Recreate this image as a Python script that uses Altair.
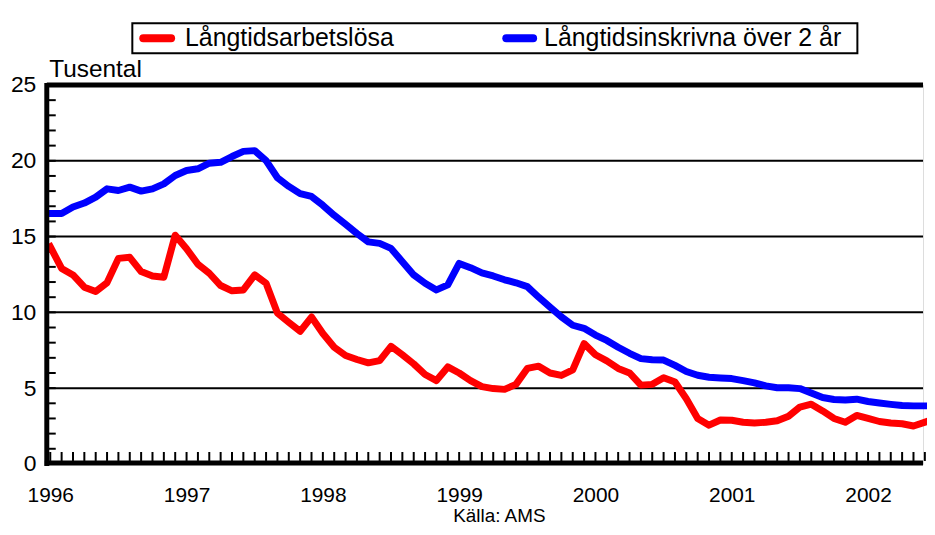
import altair as alt
import pandas as pd

FONT = "Liberation Sans"

# Months from Jan 1996 (index 0) to Jun 2002 (index 77)
month_index = list(range(78))
years = ["1996", "1997", "1998", "1999", "2000", "2001", "2002"]

series_red = "Långtidsarbetslösa"
series_blue = "Långtidsinskrivna över 2 år"
colors = ["#ff0000", "#0000ff"]

red = [14.33, 12.9, 12.47, 11.66, 11.37, 11.96, 13.56, 13.63, 12.69, 12.4,
       12.32, 15.09, 14.2, 13.17, 12.58, 11.77, 11.42, 11.48, 12.47, 11.92,
       9.95, 9.34, 8.75, 9.69, 8.6, 7.7, 7.15, 6.89, 6.67, 6.82,
       7.76, 7.2, 6.6, 5.9, 5.5, 6.4, 6.0, 5.5, 5.1, 4.97,
       4.92, 5.25, 6.3, 6.45, 6.0, 5.84, 6.2, 7.94, 7.2, 6.8,
       6.3, 6.0, 5.2, 5.25, 5.69, 5.4, 4.3, 3.0, 2.56, 2.9,
       2.88, 2.75, 2.7, 2.75, 2.85, 3.15, 3.75, 3.94, 3.5, 3.0,
       2.75, 3.2, 3.0, 2.8, 2.7, 2.65, 2.5, 2.75]

blue = [16.52, 16.52, 16.95, 17.21, 17.6, 18.15, 18.04, 18.26, 18.0, 18.15,
        18.48, 19.03, 19.36, 19.47, 19.84, 19.9, 20.28, 20.62, 20.67, 20.01,
        18.88, 18.31, 17.83, 17.65, 17.06, 16.4, 15.81, 15.2, 14.65, 14.55,
        14.22, 13.34, 12.47, 11.92, 11.48, 11.81, 13.23, 12.95, 12.6, 12.4,
        12.15, 11.95, 11.7, 11.0, 10.35, 9.7, 9.15, 8.95, 8.5, 8.15,
        7.7, 7.3, 6.95, 6.87, 6.85, 6.5, 6.1, 5.85, 5.72, 5.67,
        5.63, 5.5, 5.35, 5.15, 5.03, 5.03, 4.97, 4.68, 4.38, 4.25,
        4.22, 4.27, 4.12, 4.02, 3.93, 3.85, 3.83, 3.83]

y_labels = [0, 5, 10, 15, 20, 25]
grid_values = [5, 10, 15, 20]
minor_y = list(range(1, 25))

W, H = 881, 381
XDOM = [-0.306, 76.84]

df = pd.DataFrame({
    "m": month_index * 2,
    "v": red + blue,
    "serie": [series_red] * len(red) + [series_blue] * len(blue),
})

xs = alt.Scale(domain=XDOM, nice=False, zero=False)
ys = alt.Scale(domain=[0, 25], nice=False)

year_expr = "datum.value % 12 == 0 ? " + str(years) + "[floor(datum.value / 12)] : ''"

lines = alt.Chart(df).mark_line(strokeWidth=7, strokeJoin="round", strokeCap="square").encode(
    x=alt.X("m:Q", scale=xs,
            axis=alt.Axis(values=[0, 12, 24, 36, 48, 60, 72], labelExpr=year_expr,
                          title=None, domain=False, ticks=False, tickSize=0, grid=False,
                          labelFont=FONT, labelFontSize=21, labelColor="black",
                          labelPadding=21)),
    y=alt.Y("v:Q", scale=ys,
            axis=alt.Axis(values=y_labels, title="Tusental", domain=False, ticks=False,
                          tickSize=0, grid=False, labelFont=FONT, labelFontSize=23,
                          labelColor="black", labelPadding=11,
                          titleAngle=0, titleAlign="left", titleBaseline="alphabetic",
                          titleX=2, titleY=-9, titleFont=FONT, titleFontSize=24.5,
                          titleFontWeight="normal", titleColor="black")),
    color=alt.Color("serie:N",
                    scale=alt.Scale(domain=[series_red, series_blue], range=colors),
                    legend=None),
    order="m:Q",
)

grid = alt.Chart(pd.DataFrame({"g": grid_values})).mark_rule(
    color="black", strokeWidth=2).encode(y=alt.Y("g:Q", scale=ys))

top = alt.Chart(pd.DataFrame({"g": [25]})).mark_rule(
    color="black", strokeWidth=5).encode(
    y=alt.Y("g:Q", scale=ys), x=alt.value(0), x2=alt.value(W))

left_axis = alt.Chart(pd.DataFrame({"g": [0]})).mark_rule(
    color="black", strokeWidth=5).encode(
    x=alt.value(0), y=alt.value(-2), y2=alt.value(H + 2))

bottom_axis = alt.Chart(pd.DataFrame({"g": [0]})).mark_rule(
    color="black", strokeWidth=5).encode(
    y=alt.value(H - 1), x=alt.value(-2), x2=alt.value(W))

xticks = alt.Chart(pd.DataFrame({"m": month_index})).mark_rule(
    color="black", strokeWidth=2).encode(
    x=alt.X("m:Q", scale=xs), y=alt.value(H - 3), y2=alt.value(H - 12))

yticks = alt.Chart(pd.DataFrame({"t": minor_y})).mark_rule(
    color="black", strokeWidth=2).encode(
    y=alt.Y("t:Q", scale=ys), x=alt.value(0), x2=alt.value(9))

source = alt.Chart(pd.DataFrame({"s": ["Källa: AMS"]})).mark_text(
    font=FONT, fontSize=19, color="black", align="center", baseline="alphabetic").encode(
    text="s:N", x=alt.value(455), y=alt.value(H + 58.5))

# Legend (drawn by hand, in a box above the plot)
one = pd.DataFrame({"k": [0]})
leg_box = alt.Chart(one).mark_rect(fill="white", stroke="black", strokeWidth=2).encode(
    x=alt.value(86), x2=alt.value(815), y=alt.value(-62), y2=alt.value(-32))
leg_red = alt.Chart(one).mark_rule(color=colors[0], strokeWidth=8, strokeCap="round").encode(
    x=alt.value(97), x2=alt.value(125), y=alt.value(-47))
leg_blue = alt.Chart(one).mark_rule(color=colors[1], strokeWidth=8, strokeCap="round").encode(
    x=alt.value(462), x2=alt.value(489), y=alt.value(-47))
leg_text_red = alt.Chart(pd.DataFrame({"s": [series_red]})).mark_text(
    font=FONT, fontSize=25, color="black", align="left", baseline="alphabetic").encode(
    text="s:N", x=alt.value(139), y=alt.value(-39))
leg_text_blue = alt.Chart(pd.DataFrame({"s": [series_blue]})).mark_text(
    font=FONT, fontSize=25, color="black", align="left", baseline="alphabetic").encode(
    text="s:N", x=alt.value(500), y=alt.value(-39))

chart = alt.layer(grid, top, xticks, yticks, lines, left_axis, bottom_axis, source,
                  leg_box, leg_red, leg_blue, leg_text_red, leg_text_blue).properties(
    width=W, height=H,
    autosize=alt.AutoSizeParams(type="none"),
    padding={"left": 39, "top": 76, "right": 4, "bottom": 62},
).configure_view(stroke=None).configure(background="white")

chart.save("out.html", embed_options={"renderer": "svg", "actions": False})
